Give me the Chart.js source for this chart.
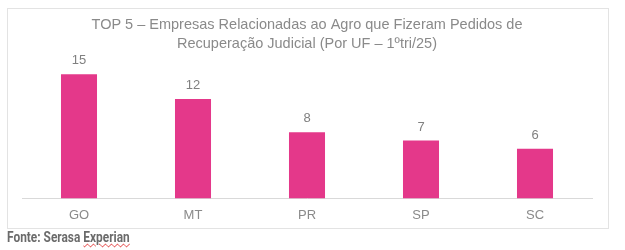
<!DOCTYPE html>
<html>
<head>
<meta charset="utf-8">
<script src="https://cdn.jsdelivr.net/npm/chart.js@4"></script>
<style>
    body { margin: 0; width: 625px; height: 250px; background: #fff; position: relative; overflow: hidden; }
    #box { position: absolute; left: 7px; top: 8px; width: 600px; height: 219px; border: 1px solid #e3e3e3; }
    #chart { position: absolute; left: 0; top: 0; }
    #fonte { position: absolute; left: 7px; top: 229px; font-family: "Roboto", sans-serif; font-weight: bold; font-size: 14px; color: #6b6b6b; transform: scaleX(0.85); transform-origin: left top; white-space: nowrap; }
    #fonte span { text-decoration: underline wavy #e03030; text-decoration-thickness: 1px; }
</style>
</head>
<body>
<div id="box"></div>
<canvas id="chart" width="625" height="250"></canvas>
<div id="fonte">Fonte: Serasa <span>Experian</span></div>
<script>
const states = ['GO', 'MT', 'PR', 'SP', 'SC']
const empresas = [15, 12, 8, 7, 6]
const titleLines = ['TOP 5 – Empresas Relacionadas ao Agro que Fizeram Pedidos de', 'Recuperação Judicial (Por UF – 1ºtri/25)']

// draws the value above each bar
const valueLabels = {
    id: 'valueLabels',
    afterDatasetsDraw(chart) {
        const ctx = chart.ctx
        const meta = chart.getDatasetMeta(0)
        ctx.save()
        ctx.font = '13px "Liberation Sans", Arial, sans-serif'
        ctx.fillStyle = '#808080'
        ctx.textAlign = 'center'
        ctx.textBaseline = 'bottom'
        meta.data.forEach((bar, i) => {
            ctx.fillText(empresas[i], bar.x, bar.y - 7)
        })
        ctx.restore()
    }
}

let canvas = document.getElementById('chart')
var barChart = new Chart(canvas, {
    type: 'bar',
    data: {
        labels: states,
        datasets: [{
            data: empresas,
            backgroundColor: '#e4388a',
            barPercentage: 0.316,
            categoryPercentage: 1
        }]
    },
    options: {
        responsive: false,
        animation: false,
        layout: { padding: { left: 22, right: 33, top: 16, bottom: 26 } },
        plugins: {
            legend: { display: false },
            tooltip: { enabled: false },
            title: {
                display: true,
                text: titleLines,
                color: '#8a8a8a',
                font: { family: '"Liberation Sans", Arial, sans-serif', size: 14.5, weight: 'normal', lineHeight: 1.3 },
                padding: { top: 0, bottom: 4 }
            }
        },
        scales: {
            x: {
                grid: { display: false },
                border: { display: true, color: '#d9d9d9' },
                ticks: { color: '#8a8a8a', padding: 1, font: { family: '"Liberation Sans", Arial, sans-serif', size: 13 } }
            },
            y: { display: false, min: 0, max: 17 }
        }
    },
    plugins: [valueLabels]
});
</script>
</body>
</html>
